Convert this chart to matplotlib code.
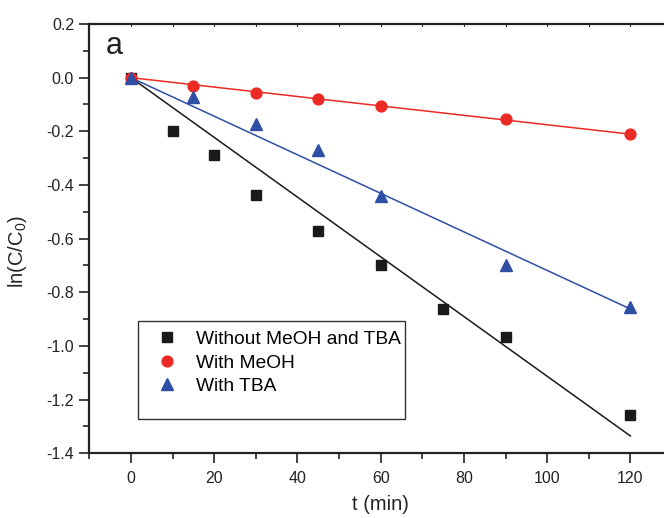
"""
ln(C/C0) vs time - quenching test (panel a)
"""

import numpy as np
import matplotlib
matplotlib.use("Agg")
import matplotlib.pyplot as plt
from matplotlib.ticker import MultipleLocator, FormatStrFormatter
from matplotlib.patches import Rectangle

plt.rcParams["font.family"] = ["Liberation Sans", "DejaVu Sans"]
plt.rcParams["mathtext.default"] = "regular"
plt.rcParams["axes.unicode_minus"] = False

# ------------------------
# Data
# ------------------------
t_none = [0, 10, 20, 30, 45, 60, 75, 90, 120]
lnc_none = [0.0, -0.198, -0.289, -0.438, -0.570, -0.697, -0.863, -0.968, -1.258]

t_meoh = [0, 15, 30, 45, 60, 90, 120]
lnc_meoh = [0.0, -0.031, -0.056, -0.080, -0.107, -0.154, -0.211]

t_tba = [0, 15, 30, 45, 60, 90, 120]
lnc_tba = [0.0, -0.072, -0.174, -0.268, -0.440, -0.699, -0.854]

labels = ["Without MeOH and TBA", "With MeOH", "With TBA"]

BLACK = "#1a1a1a"
RED = "#ec2a25"
BLUE = "#2f4fa5"
TXT = "#222222"


# first-order fit through the origin
def fit_line(x, y):
    x = np.asarray(x, dtype=float)
    y = np.asarray(y, dtype=float)
    k = (x * y).sum() / (x * x).sum()
    xs = np.array([0.0, x.max()])
    return xs, k * xs


fig = plt.figure(figsize=(6.64, 5.18), dpi=100)
ax = fig.add_axes([0.1345, 0.1249, 0.8776, 0.8288])

series = [
    (t_none, lnc_none, BLACK, "s", 6.5),
    (t_meoh, lnc_meoh, RED, "o", 7.8),
    (t_tba, lnc_tba, BLUE, "^", 8.5),
]

handles = []
for (x, y, c, m, ms), lab in zip(series, labels):
    xs, ys = fit_line(x, y)
    ax.plot(xs, ys, color=c, lw=1.1, zorder=2)
    h, = ax.plot(x, y, ls="none", marker=m, ms=ms, color=c, mec=c, label=lab, zorder=3)
    handles.append(h)

ax.set_xlim(-10, 130)
ax.set_ylim(-1.4, 0.2)
ax.xaxis.set_major_locator(MultipleLocator(20))
ax.xaxis.set_minor_locator(MultipleLocator(10))
ax.yaxis.set_major_locator(MultipleLocator(0.2))
ax.yaxis.set_minor_locator(MultipleLocator(0.1))
ax.yaxis.set_major_formatter(FormatStrFormatter("%.1f"))

ax.tick_params(which="both", direction="out", width=1.2, colors=TXT,
               labelsize=11.5, top=False, right=False)
ax.tick_params(which="major", length=7.5)
ax.tick_params(which="minor", length=4)
ax.tick_params(axis="x", pad=5)
ax.tick_params(axis="y", pad=3.5)

# tiny inward ticks on the top spine
for xv in np.arange(-10, 131, 10):
    ax.plot([xv, xv], [0.2, 0.194], color="#333333", lw=0.8, clip_on=False, zorder=1)

for s in ax.spines.values():
    s.set_linewidth(1.6)
    s.set_color("#222222")
ax.spines["right"].set_visible(False)

ax.set_xlabel("t (min)", fontsize=14.5, color=TXT)
ax.xaxis.set_label_coords(0.5, -0.098)
ax.set_ylabel("ln(C/C$_0$)", fontsize=14.5, color=TXT)
ax.yaxis.set_label_coords(-0.104, 0.47)

ax.text(0.029, 0.93, "a", transform=ax.transAxes, fontsize=22,
        color=TXT, va="baseline", ha="left")

# legend with a taller box than the entries need
ax.add_patch(Rectangle((0.0836, 0.0792), 0.4582, 0.2288, transform=ax.transAxes,
                       fill=False, ec="#333333", lw=1.0, zorder=4))
ax.legend(handles=handles, loc="upper left", bbox_to_anchor=(0.107, 0.299),
          frameon=False, fontsize=13.8, handlelength=1.0, handletextpad=1.0,
          labelspacing=0.32, borderaxespad=0.0, borderpad=0.3)

fig.savefig("out.png", dpi=100)
